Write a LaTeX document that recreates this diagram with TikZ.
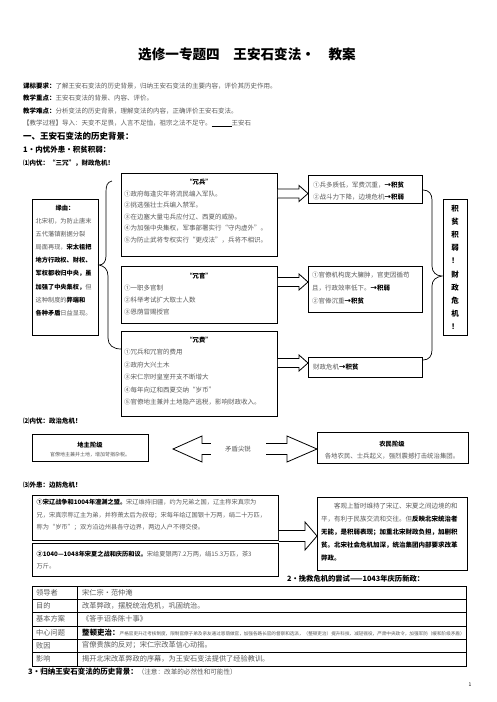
\documentclass[tikz,border=0pt]{standalone}
\usepackage{fontspec}
\setmainfont{Noto Sans CJK SC}
\usetikzlibrary{calc}
\definecolor{txt}{gray}{0.35}
\newcommand\B[1]{{\bfseries\color{black}#1}}
\newcommand\blockarrow[5]{\draw[blockarrow] let \p1=(#1), \p2=(#2) in (\x1,\y1+#3) -- (\x2-#5,\y1+#3) -- (\x2-#5,\y1+#4) -- (\x2,\y1) -- (\x2-#5,\y1-#4) -- (\x2-#5,\y1-#3) -- (\x1,\y1-#3);}
\tikzset{
 box/.style={draw, line width=0.8pt, inner sep=0pt, anchor=north west},
 tl/.style={inner sep=0pt, anchor=west, text=txt, font=\fontsize{6.5}{7}\selectfont},
 tb/.style={inner sep=0pt, anchor=west, text=txt, font=\fontsize{7.2}{8}\selectfont},
 ml/.style={inner sep=0pt, anchor=north west, align=left, text=txt, font=\fontsize{6.5}{#1}\selectfont},
 mls/.style={inner sep=0pt, anchor=north west, align=left, text=txt, font=\fontsize{6.2}{#1}\selectfont},
 bt/.style={inner sep=0pt, font=\bfseries\fontsize{6.3}{7}\selectfont},
 hd/.style={inner sep=0pt, anchor=west, font=\bfseries\fontsize{#1}{#1}\selectfont},
 blockarrow/.style={draw, line width=0.8pt, fill=white},
 brace/.style={draw, line width=0.7pt},
}
\begin{document}
\begin{tikzpicture}[x=1pt,y=-1pt]
\useasboundingbox (0,0) rectangle (496,702);
% title
\node[inner sep=0pt, font=\bfseries\fontsize{13.6}{14}\selectfont] (title) at (247,54) {选修一专题四\quad 王安石变法·\quad 教案};
% header lines
\node[tl] (kb) at (23,86) {\B{课标要求：}了解王安石变法的历史背景，归纳王安石变法的主要内容，评价其历史作用。};
\node[tl] (zd) at (23,98.5) {\B{教学重点：}王安石变法的背景、内容、评价。};
\node[tl] (nd) at (23,111) {\B{教学难点：}分析变法的历史背景，理解变法的内容，正确评价王安石变法。};
\node[tl] (gc) at (23,123.5) {【教学过程】导入：天变不足畏，人言不足恤，祖宗之法不足守。{\color{black}\rule[-1pt]{20pt}{0.8pt}}王安石};
\node[hd=8.5] (s1) at (23,136.5) {一、王安石变法的历史背景：};
\node[hd=7.5] (s11) at (23,149.5) {1·内忧外患·积贫积弱：};
\node[hd=6.5] (s111) at (23,163) {⑴内忧：“三冗”，财政危机！};
% left box
\node[box, minimum width=66pt, minimum height=136pt] (yy) at (32,199) {};
\node[bt] (yyt) at (65,208) {缘由：};
\node[mls=13.1] (yytxt) at (35.5,218.1) {北宋初，为防止唐末\\五代藩镇割据分裂\\局面再现，\B{宋太祖把}\\\B{地方行政权、财权、}\\\B{军权都收归中央，虽}\\\B{加强了中央集权，}但\\这种制度的\B{弊端和}\\\B{各种矛盾}日益显现。};
% left brace
\draw[brace] (112,181) .. controls (107,182) and (106,186) .. (106,192) -- (106,256) .. controls (106,262) and (103,265) .. (99,265) .. controls (104,266) and (108,269) .. (108,276) -- (108,338) .. controls (108,345) and (113,349) .. (121,349);
% rongbing
\node[box, minimum width=156pt, minimum height=83pt] (rb) at (121,173) {};
\node[bt] (rbt) at (199,182) {“冗兵”};
\node[ml=11.6] (rbtxt) at (124,190.4) {①政府每逢灾年将流民编入军队。\\②挑选强壮士兵编入禁军。\\③在边塞大量屯兵应付辽、西夏的威胁。\\④为加强中央集权，军事部署实行“守内虚外”。\\⑤为防止武将专权实行“更戍法”，兵将不相识。};
% rongguan
\node[box, minimum width=156pt, minimum height=57pt] (rg) at (121,266) {};
\node[bt] (rgt) at (199,276) {“冗官”};
\node[ml=12] (rgtxt) at (124,284.9) {①一职多官制\\②科举考试扩大取士人数\\③恩荫冒赐授官};
% rongfei
\node[box, minimum width=156pt, minimum height=85pt] (rf) at (121,331) {};
\node[bt] (rft) at (199,340) {“冗费”};
\node[ml=12.5] (rftxt) at (124,348.9) {①冗兵和冗官的费用\\②政府大兴土木\\③宋仁宗时皇室开支不断增大\\④每年向辽和西夏交纳“岁币”\\⑤官僚地主兼并土地隐产逃税，影响财政收入。};
% results
\node[box, minimum width=114pt, minimum height=28pt] (r1) at (308,175) {};
\node[ml=12] (r1txt) at (313,181.9) {①兵多质低，军费沉重，\B{→积贫}\\②战斗力下降，边境危机\B{→积弱}};
\node[box, minimum width=114pt, minimum height=46pt] (r2) at (308,266) {};
\node[ml=13] (r2txt) at (312,271.9) {①官僚机构庞大臃肿，官吏因循苟\\且，行政效率低下。\B{→积弱}\\②官俸沉重\B{→积贫}};
\node[box, minimum width=114pt, minimum height=20pt] (r3) at (308,357) {};
\node[tl] (r3txt) at (313,367) {财政危机\B{→积贫}};
% hollow arrows
\blockarrow{rb.east |- 0,193.5}{r1.west |- 0,193.5}{4.5pt}{8pt}{9pt}
\blockarrow{rg.east |- 0,282}{r2.west |- 0,282}{4.5pt}{8pt}{9pt}
\blockarrow{rf.east |- 0,363}{r3.west |- 0,363}{4.5pt}{8pt}{9pt}
% right brace
\draw[brace] (423,190) .. controls (429,190) and (432,194) .. (432,200) -- (432,266) .. controls (432,272) and (436,276) .. (442,276) .. controls (436,277) and (432,280) .. (432,286) -- (432,350) .. controls (432,356) and (429,360) .. (423,360);
% vertical box
\node[box, minimum width=24pt, minimum height=136pt] (vb) at (443,199) {};
\node[inner sep=0pt, anchor=north, align=center, font=\bfseries\fontsize{7.5}{13.2}\selectfont] (vtxt) at (455,204.5) {积\\贫\\积\\弱\\！\\财\\政\\危\\机\\！};
% section 2
\node[hd=6.5] (s112) at (23,421) {⑵内忧：政治危机！};
\node[box, minimum width=116pt, minimum height=27pt] (dz) at (32,434) {};
\node[bt] (dzt) at (90,445) {地主阶级};
\node[inner sep=0pt, text=txt, font=\fontsize{5}{6}\selectfont] (dztxt) at (90,455) {官僚地主兼并土地，增加苛捐杂税。};
\node[box, minimum width=151pt, minimum height=31pt] (nm) at (317,432) {};
\node[bt] (nmt) at (392,444) {农民阶级};
\node[inner sep=0pt, text=txt, font=\fontsize{6.4}{7}\selectfont] (nmtxt) at (392,456) {各地农民、士兵起义，强烈震撼打击统治集团。};
\coordinate (mdl) at (173,449);
\coordinate (mdr) at (nm.west |- mdl);
\draw[blockarrow] let \p1=(mdl), \p2=(mdr) in (\x1,\y1) -- (\x1+29pt,\y1+13pt) -- (\x1+29pt,\y1+5.5pt) -- (\x2-30pt,\y1+5.5pt) -- (\x2-30pt,\y1+13pt) -- (\x2,\y1) -- (\x2-30pt,\y1-13pt) -- (\x2-30pt,\y1-5.5pt) -- (\x1+29pt,\y1-5.5pt) -- (\x1+29pt,\y1-13pt) -- cycle;
\node[fill=white, inner sep=0pt, minimum width=55pt, minimum height=14pt, text=txt, font=\fontsize{6.4}{7}\selectfont] (md) at (238,449) {矛盾尖锐};
% section 3
\node[hd=6.5] (s113) at (23,485) {⑶外患：边防危机！};
\node[box, minimum width=246pt, minimum height=45pt] (w1) at (32,495) {};
\node[mls=12.6] (w1txt) at (36.5,499.1) {\B{①宋辽战争和1004年澶渊之盟。}宋辽维持旧疆，约为兄弟之国，辽主称宋真宗为\\兄，宋真宗称辽主为弟，并称萧太后为叔母；宋每年给辽国银十万两，绢二十万匹，\\称为“岁币”；双方沿边州县各守边界，两边人户不得交侵。};
\node[box, minimum width=246pt, minimum height=33pt] (w2) at (32,543) {};
\node[mls=11.5] (w2txt) at (36.5,551.1) {\B{②1040—1048年宋夏之战和庆历和议。}宋给夏银两7.2万两，绢15.3万匹，茶3\\万斤。};
\node[box, minimum width=150pt, minimum height=73pt] (wr) at (317,497) {};
\node[inner sep=0pt, anchor=north west, align=left, text=txt, font=\fontsize{6.5}{13}\selectfont] (wrtxt) at (321,503) {\hspace{2em}客观上暂时维持了宋辽、宋夏之间边境的和\\平，有利于民族交流和交往。但\B{反映北宋统治者}\\\B{无能，是积弱表现；加重北宋财政负担，加剧积}\\\B{贫。北宋社会危机加深，统治集团内部要求改革}\\\B{弊政。}};
\blockarrow{w1.east |- 0,536}{wr.west |- 0,536}{5.5pt}{14pt}{12pt}
% section 2 heading
\node[hd=7.3] (s12) at (287,579) {2·挽救危机的尝试——1043年庆历新政：};
% table
\draw[line width=0.8pt] (32,586) rectangle (466,666);
\foreach \yy in {599,612,626,639,652} \draw[line width=0.8pt] (32,\yy) -- (466,\yy);
\draw[line width=0.8pt] (77,586) -- (77,666);
\node[tb] (c11) at (36,592.5) {领导者};
\node[tb] (c12) at (82,592.5) {宋仁宗·范仲淹};
\node[tb] (c21) at (36,605.5) {目的};
\node[tb] (c22) at (82,605.5) {改革弊政，摆脱统治危机，巩固统治。};
\node[tb] (c31) at (36,619) {基本方案};
\node[tb] (c32) at (82,619) {《答手诏条陈十事》};
\node[tb] (c41) at (36,632.5) {中心问题};
\node[tb] (c42) at (82,632.5) {{\bfseries\color{black}\fontsize{7.5}{8}\selectfont 整顿吏治：}{\fontsize{4.6}{5}\selectfont 严格官吏升迁考核制度，限制官僚子弟及亲友通过恩荫做官，加强各路长官的督察和选派，（整顿吏治）提升科技、减轻徭役，严肃中央政令，加强军防（缓和阶级矛盾）}};
\node[tb] (c51) at (36,645.5) {败因};
\node[tb] (c52) at (82,645.5) {官僚贵族的反对；宋仁宗改革信心动摇。};
\node[tb] (c61) at (36,659) {影响};
\node[tb] (c62) at (82,659) {揭开北宋改革弊政的序幕，为王安石变法提供了经验教训。};
% section 3 heading
\node[hd=7.5] (s13) at (28,672) {3·归纳王安石变法的历史背景：{\mdseries\color{txt}\fontsize{6.6}{7}\selectfont （注意：改革的必然性和可能性）}};
\node[inner sep=0pt, font=\fontsize{5}{6}\selectfont] (pg) at (470,685) {1};
\end{tikzpicture}
\end{document}
